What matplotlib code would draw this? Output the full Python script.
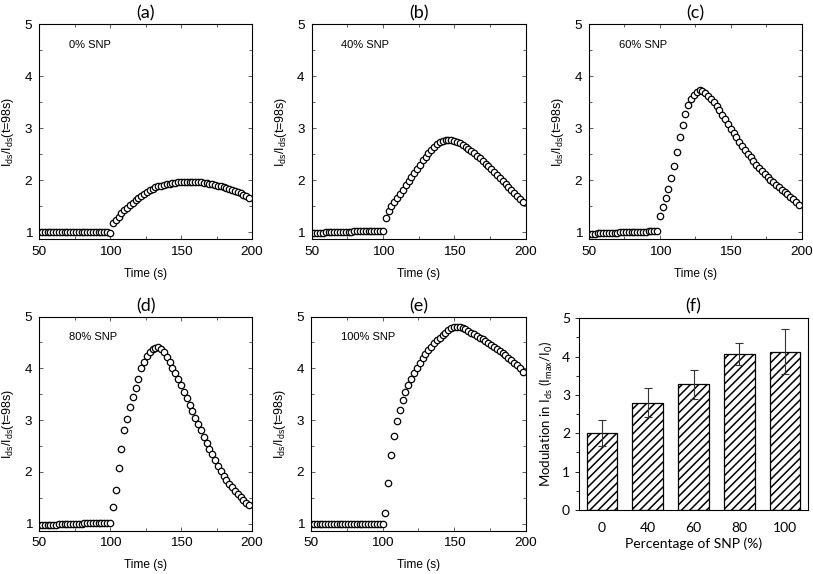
import matplotlib
matplotlib.use("Agg")
import matplotlib.pyplot as plt
from matplotlib.ticker import MultipleLocator

plt.rcParams['font.family'] = ['Liberation Sans', 'DejaVu Sans']
plt.rcParams['mathtext.default'] = 'regular'
plt.rcParams['hatch.linewidth'] = 1.1

# sampling times (s), one point every 2 s
time_s = list(range(50, 199, 2))

snp_0 = [1.00] * 25 + [0.98,
         1.17, 1.24, 1.30, 1.36, 1.42, 1.47, 1.52, 1.57, 1.62, 1.66,
         1.70, 1.74, 1.78, 1.81, 1.84, 1.86, 1.88, 1.89, 1.91, 1.92,
         1.93, 1.94, 1.95, 1.96, 1.96, 1.97, 1.97, 1.97, 1.97, 1.97,
         1.96, 1.96, 1.95, 1.94, 1.93, 1.92, 1.91, 1.89, 1.88, 1.86,
         1.85, 1.83, 1.81, 1.79, 1.77, 1.75, 1.72, 1.69, 1.66]

snp_40 = [0.99, 0.99, 0.99, 0.99, 0.99, 1.00, 1.00, 1.00, 1.00, 1.00,
          1.01, 1.01, 1.01, 1.01, 1.01, 1.02, 1.02, 1.02, 1.02, 1.02,
          1.02, 1.02, 1.02, 1.02, 1.02, 1.02,
          1.28, 1.40, 1.50, 1.58, 1.66, 1.74, 1.82, 1.90, 1.98, 2.06,
          2.14, 2.22, 2.30, 2.38, 2.45, 2.52, 2.58, 2.64, 2.69, 2.73,
          2.76, 2.78, 2.78, 2.78, 2.76, 2.74, 2.71, 2.68, 2.64, 2.60,
          2.56, 2.52, 2.47, 2.42, 2.37, 2.32, 2.27, 2.21, 2.16, 2.10,
          2.04, 1.98, 1.93, 1.87, 1.82, 1.76, 1.70, 1.64, 1.58]

snp_60 = [0.97, 0.97, 0.97, 0.98, 0.98, 0.98, 0.98, 0.99, 0.99, 0.99,
          0.99, 1.00, 1.00, 1.00, 1.00, 1.00, 1.01, 1.01, 1.01, 1.01,
          1.01, 1.02, 1.02, 1.02, 1.02,
          1.32, 1.49, 1.66, 1.84, 2.04, 2.27, 2.55, 2.82, 3.06, 3.28,
          3.44, 3.55, 3.63, 3.69, 3.74, 3.72, 3.67, 3.62, 3.56, 3.50,
          3.42, 3.34, 3.26, 3.17, 3.08, 2.99, 2.91, 2.82, 2.74, 2.66,
          2.58, 2.51, 2.44, 2.37, 2.30, 2.23, 2.17, 2.11, 2.06, 2.01,
          1.96, 1.91, 1.86, 1.82, 1.77, 1.73, 1.68, 1.64, 1.59, 1.53]

snp_80 = [0.97, 0.97, 0.97, 0.98, 0.98, 0.98, 0.98, 0.99, 0.99, 0.99,
          0.99, 1.00, 1.00, 1.00, 1.00, 1.00, 1.01, 1.01, 1.01, 1.01,
          1.01, 1.02, 1.02, 1.02, 1.02, 1.02,
          1.33, 1.65, 2.07, 2.45, 2.80, 3.03, 3.26, 3.44, 3.62, 3.80,
          4.00, 4.13, 4.23, 4.32, 4.37, 4.40, 4.41, 4.38, 4.31, 4.22,
          4.12, 4.01, 3.90, 3.79, 3.67, 3.55, 3.43, 3.30, 3.17, 3.04,
          2.92, 2.80, 2.68, 2.56, 2.45, 2.34, 2.23, 2.12, 2.02, 1.93,
          1.85, 1.77, 1.70, 1.63, 1.57, 1.51, 1.46, 1.41, 1.36]

snp_100 = [1.00] * 25 + [0.99,
           1.20, 1.78, 2.33, 2.69, 2.98, 3.20, 3.38, 3.54, 3.68, 3.80,
           3.91, 4.01, 4.10, 4.19, 4.27, 4.35, 4.42, 4.48, 4.54, 4.59,
           4.64, 4.69, 4.73, 4.77, 4.80, 4.80, 4.79, 4.77, 4.75, 4.72,
           4.69, 4.66, 4.63, 4.59, 4.56, 4.52, 4.48, 4.45, 4.41, 4.37,
           4.33, 4.29, 4.25, 4.20, 4.16, 4.11, 4.06, 4.00, 3.93]

series = [snp_0, snp_40, snp_60, snp_80, snp_100]
series_labels = ['0% SNP', '40% SNP', '60% SNP', '80% SNP', '100% SNP']
panel_titles = ['(a)', '(b)', '(c)', '(d)', '(e)', '(f)']

# panel (f)
snp_pct = ['0', '40', '60', '80', '100']
modulation = [2.02, 2.80, 3.28, 4.07, 4.13]
modulation_err = [0.34, 0.37, 0.38, 0.28, 0.58]

W, H = 813, 574
fig = plt.figure(figsize=(W / 100, H / 100), dpi=100)


def box(l, t, r, b):
    return [l / W, 1 - b / H, (r - l) / W, (b - t) / H]


rects = [box(39, 24, 252, 239), box(311.5, 24, 525.5, 239), box(589, 24, 801.5, 239),
         box(39, 316.5, 252, 530.5), box(311, 316.5, 525.5, 530.5)]

title_font = ['Lato', 'DejaVu Sans']

for i, (rect, y, lab) in enumerate(zip(rects, series, series_labels)):
    ax = fig.add_axes(rect)
    ax.plot(time_s, y, 'o', mfc='white', mec='black', ms=4.6, mew=0.9)
    ax.set_xlim(50, 200)
    ax.set_ylim(0.87, 5)
    ax.xaxis.set_major_locator(MultipleLocator(50))
    ax.xaxis.set_minor_locator(MultipleLocator(25))
    ax.yaxis.set_major_locator(MultipleLocator(1))
    ax.yaxis.set_minor_locator(MultipleLocator(0.5))
    ax.tick_params(which='both', direction='in', top=True, right=True,
                   labelsize=9.7, width=0.6, color='#444444')
    ax.tick_params(which='major', length=3, pad=5)
    ax.tick_params(which='minor', length=2)
    for s in ax.spines.values():
        s.set_linewidth(0.8)
    ax.set_xlabel('Time (s)', fontsize=8.6, labelpad=7)
    ax.set_ylabel(r'I$_{ds}$/I$_{ds}$(t=98s)', fontsize=9, labelpad=6)
    ax.text(71, 4.6, lab, fontsize=8, va='center', ha='left')
    ax.set_title(panel_titles[i], fontsize=13, family=title_font, pad=4)

# panel (f): bar chart
axf = fig.add_axes(box(579, 318.3, 808, 510))
pos = range(len(snp_pct))
axf.bar(pos, modulation, width=0.67, color='white', edgecolor='black',
        hatch='////', linewidth=0.9)
axf.errorbar(pos, modulation, yerr=modulation_err, fmt='none',
             ecolor='#333333', elinewidth=0.8, capsize=3, capthick=0.8)
axf.set_xlim(-0.5, 4.5)
axf.set_ylim(0, 5)
axf.set_xticks(list(pos))
axf.set_xticklabels(snp_pct, family=title_font, fontsize=10)
axf.yaxis.set_major_locator(MultipleLocator(1))
axf.yaxis.set_minor_locator(MultipleLocator(0.5))
for t in axf.get_yticklabels():
    t.set_family(title_font)
    t.set_fontsize(10)
axf.tick_params(axis='x', length=0, pad=9)
axf.tick_params(axis='y', which='major', length=3, direction='out', width=0.6)
axf.tick_params(axis='y', which='minor', length=2, direction='out', width=0.6)
axf.set_xlabel('Percentage of SNP (%)', family=title_font, fontsize=10, labelpad=2)
axf.set_ylabel(r'Modulation in I$_{ds}$ (I$_{max}$/I$_{0}$)', family=title_font,
               fontsize=9.5, labelpad=5)
axf.set_title(panel_titles[5], fontsize=13, family=title_font, pad=5)

fig.savefig('out.png', dpi=100)
